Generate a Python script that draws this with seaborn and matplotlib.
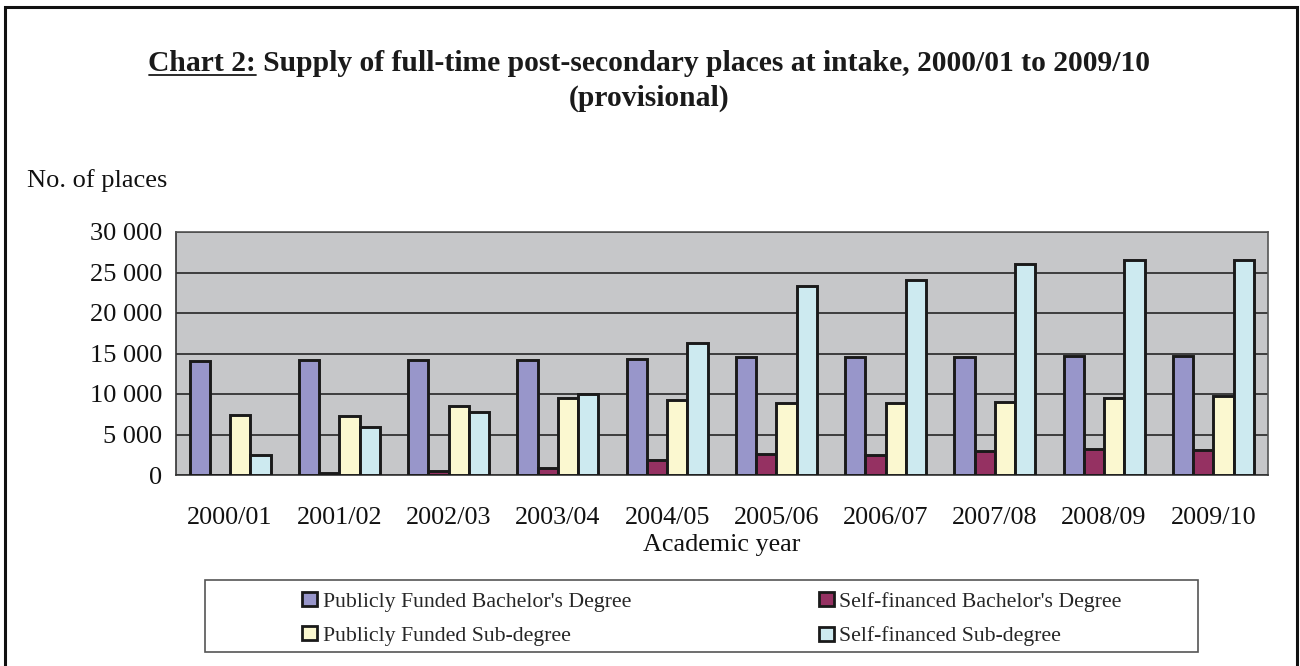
import matplotlib
matplotlib.use("Agg")
import matplotlib.pyplot as plt
import seaborn as sns
import pandas as pd
import numpy as np
from matplotlib.patches import Rectangle
from matplotlib.lines import Line2D
from matplotlib.ticker import FuncFormatter, FixedLocator

# ---------------- data ----------------
years = ["2000/01", "2001/02", "2002/03", "2003/04", "2004/05",
         "2005/06", "2006/07", "2007/08", "2008/09", "2009/10"]
series_names = ["Publicly Funded Bachelor's Degree",
                "Self-financed Bachelor's Degree",
                "Publicly Funded Sub-degree",
                "Self-financed Sub-degree"]
pf_bachelor = [14100, 14200, 14200, 14200, 14300, 14550, 14550, 14600, 14650, 14650]
sf_bachelor = [0, 250, 500, 900, 1900, 2550, 2450, 2950, 3200, 3050]
pf_subdegree = [7400, 7250, 8550, 9550, 9300, 8850, 8950, 9050, 9450, 9750]
sf_subdegree = [2450, 5900, 7750, 10000, 16300, 23300, 24050, 26100, 26550, 26500]
y_ticks = [0, 5000, 10000, 15000, 20000, 25000, 30000]

title_line1 = "Chart 2: Supply of full-time post-secondary places at intake, 2000/01 to 2009/10"
title_underlined = "Chart 2:"
title_line2 = "(provisional)"
y_label = "No. of places"
x_label = "Academic year"

colors = ["#9896CA", "#953162", "#FBF8D0", "#CDEAF0"]

rows = []
for name, vals in zip(series_names, [pf_bachelor, sf_bachelor, pf_subdegree, sf_subdegree]):
    for yr, v in zip(years, vals):
        rows.append({"year": yr, "series": name, "value": v})
df = pd.DataFrame(rows)

# ---------------- figure ----------------
sns.set_style("white")
plt.rcParams["font.family"] = ["Liberation Serif", "DejaVu Serif"]

W, H = 1300, 666
fig = plt.figure(figsize=(W / 100, H / 100), dpi=100)


def fx(px):
    return px / W


def fy(py):
    return 1 - py / H


ax_l, ax_r, ax_t, ax_b = 175.5, 1268, 232, 475
ax = fig.add_axes([fx(ax_l), fy(ax_b), fx(ax_r - ax_l), (ax_b - ax_t) / H])
ax.set_facecolor("#C6C7C9")

sns.barplot(data=df, x="year", y="value", hue="series", order=years,
            hue_order=series_names, palette=colors, saturation=1, width=0.74,
            dodge=True, edgecolor="#1a1a1a", linewidth=2.1, errorbar=None,
            ax=ax, zorder=3)

handles, labels = ax.get_legend_handles_labels()
if ax.get_legend() is not None:
    ax.get_legend().remove()

ax.set_ylim(0, 30000)
ax.set_xlim(-0.5, len(years) - 0.5)
ax.yaxis.set_major_locator(FixedLocator(y_ticks))
ax.yaxis.set_major_formatter(FuncFormatter(lambda v, p: f"{int(v):,}".replace(",", " ")))
ax.grid(axis="y", color="#262626", linewidth=1.2, zorder=1)
ax.set_axisbelow(True)
ax.tick_params(axis="y", labelsize=19, length=5, width=1, pad=4.5, colors="#333333",
               labelcolor="#111111")
ax.set_xticks(range(len(years)))
ax.set_xticklabels(years)
ax.tick_params(axis="x", which="major", length=0, labelsize=18.8, pad=23, labelcolor="#111111")
ax.set_xticks(np.arange(-0.5, len(years), 1.0), minor=True)
ax.tick_params(axis="x", which="minor", direction="inout", length=11.5, width=1, colors="#333333")
ax.set_ylabel("")
ax.set_xlabel(x_label, fontsize=18.8, labelpad=4, color="#111111")

for side in ["left", "bottom"]:
    ax.spines[side].set_color("#333333")
    ax.spines[side].set_linewidth(1.2)
for side in ["top", "right"]:
    ax.spines[side].set_color("#555555")
    ax.spines[side].set_linewidth(1.2)

# ---------------- legend ----------------
order = [0, 2, 1, 3]
leg = fig.legend([handles[i] for i in order], [labels[i] for i in order],
                 ncol=2, loc="center", bbox_to_anchor=(fx(712), fy(619)),
                 frameon=False, fontsize=15.7, handlelength=0.69, handleheight=0.6,
                 handletextpad=0.25, columnspacing=8.6, labelspacing=0.68,
                 borderpad=0)
for h in leg.legend_handles:
    h.set_edgecolor("#1a1a1a")
    h.set_linewidth(2.0)
fig.add_artist(Rectangle((fx(205), fy(652)), fx(1198 - 205), (652 - 580) / H,
                         transform=fig.transFigure, fill=False,
                         edgecolor="#555555", linewidth=1.2))

# ---------------- outer frame ----------------
fig.add_artist(Rectangle((fx(5), fy(700)), fx(1297 - 5), (700 - 7) / H,
                         transform=fig.transFigure, fill=False,
                         edgecolor="#111111", linewidth=2.2, clip_on=False))

# ---------------- titles ----------------
t_main = fig.text(fx(649.5), fy(71), title_line1, ha="center", va="baseline",
                  fontsize=21.3, fontweight="bold", color="#1a1a1a")
fig.text(fx(649.5), fy(106), title_line2, ha="center", va="baseline",
         fontsize=21.3, fontweight="bold", color="#1a1a1a")
fig.text(fx(27), fy(187), y_label, ha="left", va="baseline", fontsize=19, color="#111111")

fig.canvas.draw()
r = fig.canvas.get_renderer()
bb = t_main.get_window_extent(r)
tmp = fig.text(0, 0, title_underlined, fontsize=21.3, fontweight="bold")
w1 = tmp.get_window_extent(r).width
tmp.remove()
uy = fy(75)
fig.add_artist(Line2D([bb.x0 / W, (bb.x0 + w1) / W], [uy, uy],
                      transform=fig.transFigure, color="#1a1a1a", linewidth=1.3))

fig.savefig("out.png", dpi=100)
